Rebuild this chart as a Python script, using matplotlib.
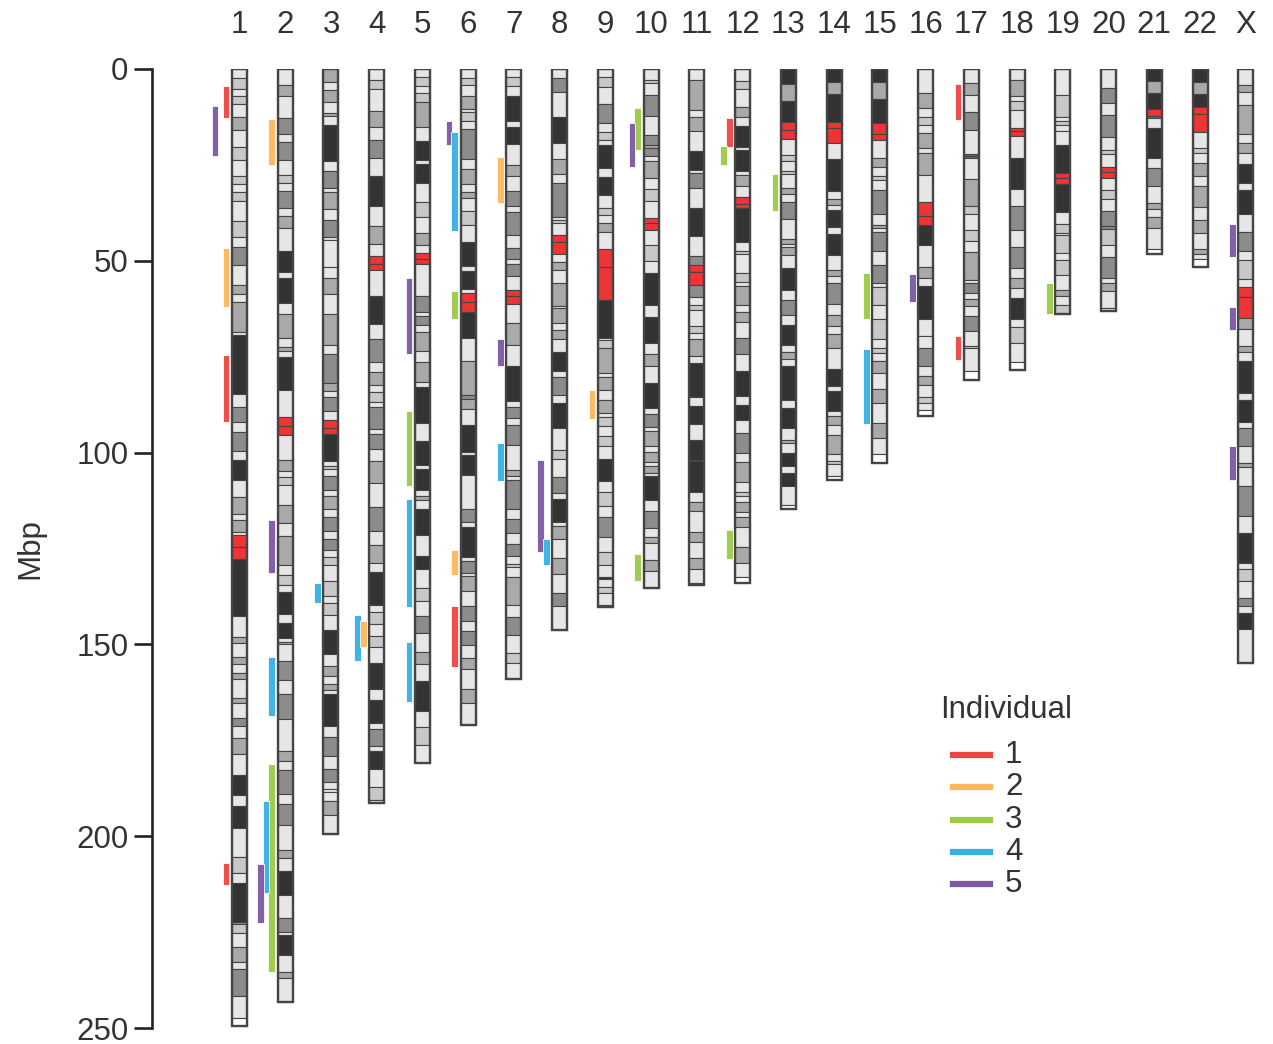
import matplotlib
matplotlib.use("Agg")
import matplotlib.pyplot as plt
from matplotlib.patches import Rectangle
from matplotlib.lines import Line2D
from matplotlib.transforms import blended_transform_factory

plt.rcParams['font.family'] = ['Liberation Sans', 'DejaVu Sans']

# ---------------- data ----------------
chromosomes = ["1", "2", "3", "4", "5", "6", "7", "8", "9", "10", "11", "12",
               "13", "14", "15", "16", "17", "18", "19", "20", "21", "22", "X"]

# cytobands: "end stain end stain ..." (Mbp); n=gneg 1=gpos25 2=gpos50 3=gpos75 4=gpos100
# a=acen v=gvar s=stalk w=terminal
bands_chr1 = "2.4 n 5.2 1 7.1 n 9.1 1 12.6 n 16 2 20.4 n 23.6 1 27.8 n 29.9 1 32.1 n 34.3 1 39.7 n 43.9 1 46.5 n 51.2 3 56.2 n 58.7 2 60.8 n 68.6 2 69.3 n 84.8 4 88 n 92 3 94.5 n 99.5 3 101.9 n 107.1 4 111.6 n 115.9 2 117.5 n 120.8 2 121.4 n 124.5 a 127.8 a 142.6 v 148.2 n 149.7 2 153.4 n 155 2 157.4 n 158.9 2 164.1 n 165.4 2 169.3 n 171.3 3 174.4 n 178.7 2 184.1 n 189.3 4 192.2 n 197.8 4 205.4 n 209.7 1 212.2 n 222.3 4 223 3 225.2 1 228.8 n 232.7 2 234.7 n 241.7 3 247.3 n 249.4 w"
bands_chr2 = "4.3 n 7 2 12.8 n 16.9 3 19.1 n 23.8 3 27.6 n 29.6 1 31.8 n 36.3 3 38.4 n 41.5 2 47.4 n 52.8 4 54.6 n 61.1 4 63.9 n 70.2 2 72.5 n 73.6 2 75.1 n 83.7 4 90.6 n 93 a 95.4 a 101.9 n 104.9 2 106.4 n 108.4 1 113.6 n 118.4 2 121.8 n 129.2 2 132 n 134.4 1 136.3 n 142.2 4 144.3 n 148.3 4 149.5 n 150 2 154.4 n 159.3 3 163 n 169.5 3 177.8 n 180.4 2 182.7 n 189.1 3 191.7 n 197.1 3 203.6 n 205.6 2 209 n 215.3 4 221.4 n 225 3 225.7 n 231 4 235.3 n 237 2 243.1 n"
bands_chr3 = "3.3 2 5.5 n 8.5 2 11.6 n 12.2 2 14.6 n 24 4 26.6 n 30.9 3 32 n 36.6 2 39.4 n 43.7 3 44.6 n 51.5 n 54.5 n 58.6 2 63.8 n 71.9 2 74.2 n 81.9 3 83.9 2 85.6 n 89.1 3 91.4 n 93.6 a 95.1 a 102.1 4 103.4 n 104.2 1 106.2 n 109.7 3 111.4 n 114.7 2 116.8 n 120.5 3 122.5 n 125.3 3 127.3 n 129.4 1 133.6 n 137.5 1 139.3 n 142.3 1 146.3 n 152.5 4 155.6 n 158.2 2 160.2 n 161.9 2 163 n 171.2 4 174.2 n 179 3 182.5 n 185.9 3 187.7 n 188.5 n 190.7 n 194.5 2 199.5 n"
bands_chr4 = "2.9 n 5.2 1 10.9 n 15.2 2 18.5 n 23.1 3 27.8 n 35.7 4 40.9 n 45.6 2 48.7 n 50.8 a 52.3 a 59.1 n 66.4 4 70.3 n 76.4 3 79 n 82.4 2 84.3 n 86.9 1 88 n 93.9 3 95.2 n 99.1 3 102.3 n 107.8 2 114.3 n 120.5 3 124 n 128.8 2 131.2 n 139.6 4 141.6 n 144.8 1 147.7 n 150.8 1 154.8 n 161.6 4 164.4 n 170.5 4 172 n 176.6 3 177.9 n 182.6 4 187.1 n 190.6 1 191.3 n"
bands_chr5 = "2 n 4.4 1 6.2 n 8.5 1 15.2 2 18.7 n 23.6 4 24.8 n 29.8 4 34.8 n 38.7 1 42.8 n 46 2 48 n 49.5 a 50.8 a 59.1 n 63.4 3 64.3 n 66.7 3 68.6 n 73.4 2 76.4 n 81.6 2 82.8 n 92.2 4 97.1 n 103.2 4 104.3 n 109.7 4 111.2 n 112.4 2 114.8 n 121.6 4 127 n 130.4 4 135.2 n 138.7 1 142.7 n 146.9 3 151.9 n 155.1 2 159.5 n 167.3 4 171.6 n 176.2 1 180.9 n"
bands_chr6 = "2.4 n 4.2 1 7 n 10.5 2 11.3 n 13.6 1 15.6 n 23.5 3 26.1 n 30 2 32 n 33.7 2 36.9 n 40.7 1 45.2 n 51.3 4 52.6 n 57.4 4 58.3 n 60.7 a 63.4 a 70.2 4 76.1 n 85 2 86 3 88.6 2 92.9 n 99.9 4 100.7 n 105.9 4 114.8 n 118 3 119.5 n 127.3 4 128.2 n 131.3 3 132.2 n 136.2 2 140 n 143.9 3 146.6 n 150.1 3 153.5 n 156.4 2 161.6 n 165.3 2 170.9 n"
bands_chr7 = "2 n 4.4 1 7 n 13.5 4 15 n 19.6 4 25 n 27.8 2 31.7 n 35.7 3 37.4 n 43.2 3 46.7 n 49.6 3 50.9 n 53.9 3 57.6 n 59.3 a 61.2 a 66.2 n 71.9 2 77.3 n 86.5 4 88 n 91 3 92.7 n 98.1 3 104.6 n 106.2 2 107.2 n 114.6 3 117.2 n 121 3 123.7 n 127 3 129.1 n 129.8 1 132.3 n 139.8 2 142.9 n 147.6 3 152.2 n 154.8 1 158.9 n"
bands_chr8 = "2.4 n 6.1 3 12.6 n 19.4 4 23.5 n 27.4 2 29.7 n 38.5 3 39.4 n 40.2 1 43.2 n 45.2 a 48.2 a 50.4 n 52.5 2 55.7 n 61.7 2 62.4 n 66.3 2 68 n 70.5 2 73.9 n 78.7 4 80.4 n 85 3 87.2 n 93.7 4 99.2 n 101.7 1 106.3 n 110.6 3 112.2 n 118 4 119.1 n 122.6 2 127.4 n 131.7 2 136.7 n 140.1 3 146.3 n"
bands_chr9 = "2.2 n 4.8 1 9 n 14 3 16.5 n 18.4 1 19.8 n 25.7 4 28.1 n 32.8 4 36.3 n 38.1 1 40.2 n 42.4 2 46.8 n 51.5 a 60.2 a 70.2 v 70.6 n 72.8 1 79.3 2 80.4 n 83.6 2 86.2 n 89.6 2 90.8 n 93.1 1 95.7 n 98.4 1 101.7 n 107.5 4 110.4 n 114 1 116.8 n 122 3 125.9 n 129.2 1 132.5 n 132.9 4 135 n 136.6 1 139.8 n 140.3 w"
bands_chr10 = "2.9 n 3.7 1 6.7 n 12.2 3 17.3 n 19.7 3 20.5 2 22.7 3 24 n 28.4 2 31.4 n 34.5 1 38.8 n 40.1 a 42 a 46 n 50.1 1 53.1 n 61.4 4 64.6 n 71.4 4 74.4 n 77.3 2 81.8 n 88.5 4 89.9 n 93.4 3 94.4 n 98.3 2 99.8 n 102.5 2 103.5 n 105.2 2 106.1 n 112.4 4 115.2 n 119.6 3 122 n 123.5 2 128 n 130.9 2 135.4 n"
bands_chr11 = "2.9 n 10.7 2 12.6 n 16.1 2 21.5 n 26.3 4 27.1 n 31 3 36.2 n 43.6 4 48.8 n 51.2 3 52.8 a 56.4 a 59.5 3 61.4 n 62.8 1 67 n 68.9 1 70.5 n 74.8 2 76.6 n 85.6 4 87.8 n 92.5 4 96.7 n 101.9 4 102.3 3 110.4 4 113 n 115.3 2 120.8 n 123.4 2 127.5 n 130.3 2 134 n 134.5 2"
bands_chr12 = "3 n 5.2 1 9.8 n 12.4 2 14.8 n 20.3 4 21.1 n 26.5 4 27.6 n 30.5 2 33.3 n 35.3 a 36.3 a 45 v 47.4 n 48.2 1 53.3 n 55.5 1 56.6 n 61.6 2 63.3 n 65.9 2 70 n 74.2 3 78.7 n 85.3 4 87.5 n 91.6 4 94.9 n 100.1 3 102.5 n 107.7 2 110.3 n 111.2 1 112.9 n 115.5 2 116.8 n 119.3 2 124.7 n 128.8 2 132.5 n 134 w"
bands_chr13 = "3.9 v 8.3 s 13.7 v 15.9 a 18.3 a 22.4 n 24.1 1 26.7 n 27.5 1 31 n 32.5 2 34.7 n 39.2 3 44.3 n 45.7 2 46.3 n 48.6 2 51.8 n 57.5 4 60.2 n 64 3 66.8 n 72 4 73.9 n 75.7 2 77.4 n 86.2 4 88.4 n 93.6 4 96.6 n 97.5 2 100.1 n 103.4 4 105.3 n 108.8 4 113.6 n 114.6 w"
bands_chr14 = "3.3 v 6.6 s 13.7 v 15.5 a 19.2 a 23.5 n 31.9 4 33.9 n 35.5 2 36.7 n 41.3 4 43 n 48.4 4 52.3 n 54 2 55.8 n 61.3 3 64 n 66.9 2 69.2 n 72.7 2 78.2 n 82.6 4 83.9 n 89.1 4 90.4 n 92.7 2 95.3 n 100.4 2 102.3 n 103.1 1 106.2 n 107.1 w"
bands_chr15 = "3.3 v 7.9 s 14.2 v 17 a 18.5 a 23.3 n 25.6 2 28 n 28.9 1 31.5 n 37.8 3 40.6 n 41.5 2 42.6 n 47.4 3 51 n 55.8 3 56.9 n 61.4 1 65.3 n 70.4 1 72.7 n 74 1 76.2 n 79.2 2 83.3 n 87 2 92.2 n 96.3 2 100.4 n 102.6 w"
bands_chr16 = "6.3 n 10.2 2 12.4 n 14.6 1 16.7 n 20.5 2 21.8 n 27.6 2 34.6 n 38.3 a 40.6 a 45.8 v 51.5 n 54.5 2 56.6 n 65.3 4 69.7 n 72.7 n 77.4 3 80 n 82.4 2 85.4 n 87.1 1 88.9 n 90.4 w"
bands_chr17 = "3.7 n 6.8 2 11.3 n 15.9 3 22.1 n 22.6 a 23.2 a 28.7 n 35.7 2 37.8 1 41.9 n 44.9 1 47.6 n 55 2 55.7 n 58.4 3 60 n 61.7 2 64.5 n 68.4 3 72.1 n 72.7 1 78.8 n 81.1 w"
bands_chr18 = "2.9 n 7 2 8.3 n 10.7 1 15.5 n 16.1 a 17.5 a 23.3 n 31.4 4 35.7 n 41.9 3 46.5 n 52 3 54.6 n 57.2 2 59.8 n 65.3 4 67.2 n 71.4 1 76.4 n 78.4 w"
bands_chr19 = "6.8 n 12.6 1 13.5 n 14.6 1 16.2 n 19.8 n 27.2 4 28.3 a 30 a 37.4 v 40.4 n 42.8 1 43.4 n 48 1 49.9 n 53.6 1 57.5 n 59.1 2 61.5 n 63.8 1"
bands_chr20 = "5 n 8.9 3 12 n 17.8 3 21.1 n 22.2 1 25.5 n 26.9 a 28.4 a 31.5 n 33.9 1 37.1 n 40.8 3 41.7 3 45.8 1 49.1 n 54.5 3 55.9 n 57.9 2 62.3 n 63.2 n"
bands_chr21 = "3 v 6.2 s 10.3 v 12.3 a 12.9 a 15.5 n 23.1 4 25.9 n 30.5 3 34.9 n 36.6 2 38.7 n 41.4 2 47 n 48.2 w"
bands_chr22 = "3.3 v 6.6 s 9.8 v 11.8 a 16.3 a 20.6 n 21.8 1 24.4 n 27.9 2 30.5 n 35.9 2 39.4 n 42.7 2 47 n 48.3 2 49.6 n 51.5 w"
bands_chrX = "4.3 n 5.9 2 9.5 n 17 2 19.2 n 21.8 2 24.8 n 29.6 4 31.5 n 37.8 4 42.4 n 47.4 3 49.8 n 54.8 1 56.7 n 59.5 a 64.9 a 67.8 2 72.1 n 73.9 2 76.1 n 84.5 4 86.2 n 91.9 4 93.5 n 98.3 3 102.6 n 103.7 2 108.7 n 116.5 3 120.9 n 128.7 4 130.4 n 133.5 1 137.8 n 140.1 3 141.9 n 146.1 4 154.9 n"

band_strings = [bands_chr1, bands_chr2, bands_chr3, bands_chr4, bands_chr5, bands_chr6,
                bands_chr7, bands_chr8, bands_chr9, bands_chr10, bands_chr11, bands_chr12,
                bands_chr13, bands_chr14, bands_chr15, bands_chr16, bands_chr17, bands_chr18,
                bands_chr19, bands_chr20, bands_chr21, bands_chr22, bands_chrX]

# segments per individual
seg_chrom = ["1", "1", "1", "1", "1", "2", "2", "2", "2", "2", "2", "3", "4", "4",
             "5", "5", "5", "5", "6", "6", "6", "6", "6", "7", "7", "7", "8", "8",
             "9", "10", "10", "10", "12", "12", "12", "13", "15", "15", "16", "17",
             "17", "19", "X", "X", "X"]
seg_start = [4.4, 9.6, 46.7, 74.6, 206.9, 13.1, 117.7, 153.4, 181.3, 190.9, 207.2, 134.0,
             142.4, 143.8, 54.5, 89.2, 112.1, 149.5, 13.5, 16.3, 57.9, 125.5, 140.0, 22.9,
             70.5, 97.6, 101.9, 122.5, 83.7, 10.2, 14.2, 126.4, 12.9, 20.1, 120.2, 27.4,
             53.1, 73.1, 53.5, 3.9, 69.6, 55.9, 40.5, 62.0, 98.3]
seg_end = [12.7, 22.6, 62.0, 91.9, 212.8, 25.0, 131.5, 168.6, 235.5, 214.7, 222.5, 139.3,
           154.2, 150.8, 74.2, 108.7, 140.3, 165.0, 19.9, 42.2, 65.3, 131.8, 156.0, 35.0,
           77.4, 107.4, 125.8, 129.4, 91.2, 21.2, 25.6, 133.5, 20.4, 25.0, 127.8, 37.0,
           65.3, 92.5, 60.7, 13.3, 75.9, 63.8, 48.9, 68.0, 107.1]
seg_individual = [1, 5, 2, 1, 1, 2, 5, 4, 3, 4, 5, 4, 4, 2, 5, 3, 4, 4, 5, 4, 3, 2, 1, 2,
                  5, 4, 5, 4, 2, 3, 5, 3, 1, 3, 3, 3, 3, 4, 5, 1, 1, 3, 5, 5, 5]
seg_lane = [1, 3, 1, 1, 1, 1, 1, 1, 1, 2, 3, 1, 2, 1, 1, 1, 1, 1, 2, 1, 1, 1, 1, 1,
            1, 1, 2, 1, 1, 1, 2, 1, 1, 2, 1, 1, 1, 1, 1, 1, 1, 1, 1, 1, 1]

individuals = [1, 2, 3, 4, 5]
ind_colors = ["#EF4444", "#FDB95B", "#9BCB45", "#35B1E4", "#7B58A5"]
yticks = [0, 50, 100, 150, 200, 250]

# ---------------- styles ----------------
stain_color = {'n': '#E6E6E6', '1': '#C8C8C8', '2': '#A9A9A9', '3': '#8C8C8C',
               '4': '#333333', 'v': '#333333', 's': '#A9A9A9', 'a': '#EE3434',
               'w': '#FFFFFF'}
FS = 22.5
W, H = 1273, 1044
fig = plt.figure(figsize=(W / 100, H / 100), dpi=100)
ax_left, ax_right, ax_top, ax_bot = 152, 1273, 69, 1028
ax = fig.add_axes([ax_left / W, 1 - ax_bot / H, (ax_right - ax_left) / W, (ax_bot - ax_top) / H])
c0, step = 239.5, 45.74
ax.set_xlim((ax_left - c0) / step, (ax_right - c0) / step)
ax.set_ylim(250, 0)

chrom_w = 15.0 / step
seg_w = 6.7 / step
lane_off = {1: -13.4 / step, 2: -19.1 / step, 3: -24.6 / step}
edge = '#454545'

for i, s in enumerate(band_strings):
    tok = s.split()
    start = 0.0
    for k in range(0, len(tok), 2):
        end = float(tok[k])
        code = tok[k + 1]
        ax.add_patch(Rectangle((i - chrom_w / 2, start), chrom_w, end - start,
                               facecolor=stain_color[code], edgecolor=edge, lw=0.8, zorder=2))
        start = end
    ax.add_patch(Rectangle((i - chrom_w / 2, 0), chrom_w, start, fill=False,
                           edgecolor=edge, lw=1.7, zorder=3))

for ch, a, b, ind, ln in zip(seg_chrom, seg_start, seg_end, seg_individual, seg_lane):
    xi = chromosomes.index(ch) + lane_off[ln]
    col = ind_colors[individuals.index(ind)]
    ax.add_patch(Rectangle((xi - seg_w / 2, a), seg_w, b - a, facecolor=col,
                           edgecolor='white', lw=0.6, alpha=0.95, zorder=4))

# axis styling
for sp in ['top', 'right', 'bottom']:
    ax.spines[sp].set_visible(False)
ax.spines['left'].set_linewidth(1.9)
ax.spines['left'].set_color('#222222')
ax.set_xticks([])
ax.set_yticks(yticks)
ax.tick_params(axis='y', length=13, width=1.9, color='#222222', labelsize=FS,
               labelcolor='#333333', pad=4)
ax.set_ylabel("Mbp", fontsize=FS, color='#333333')
ax.yaxis.set_label_coords(-(152 - 45) / (ax_right - ax_left), 0.5)

trans = blended_transform_factory(ax.transData, fig.transFigure)
for i, ch in enumerate(chromosomes):
    ax.text(i, 1 - 25 / H, ch, transform=trans, ha='center', va='center',
            fontsize=FS, color='#333333')

# legend
fig.text(940 / W, 1 - 710 / H, "Individual", ha='left', va='center', fontsize=FS, color='#333333')
for k, (ind, col) in enumerate(zip(individuals, ind_colors)):
    yy = 1 - (755 + 32.3 * k) / H
    fig.add_artist(Line2D([953 / W, 990 / W], [yy, yy], color=col, lw=4.5,
                          transform=fig.transFigure))
    fig.text(1005 / W, yy, str(ind), ha='left', va='center', fontsize=FS, color='#333333')

fig.savefig("out.png", dpi=100)
